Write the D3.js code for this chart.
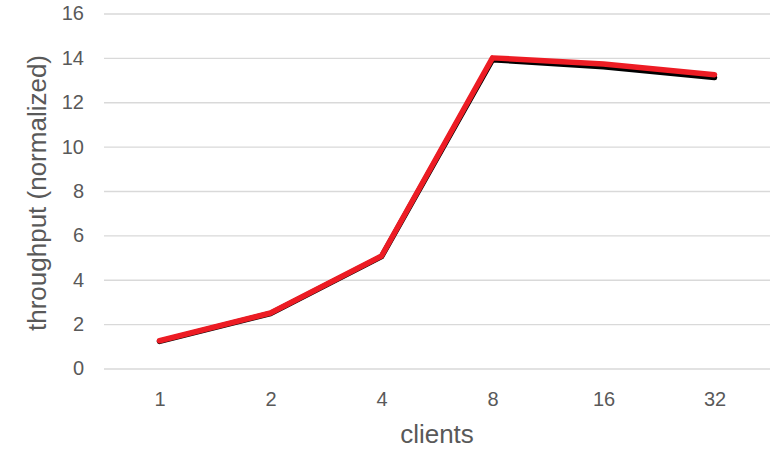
<!DOCTYPE html>
<html>
<head>
<meta charset="utf-8">
<script src="https://cdn.jsdelivr.net/npm/d3@7"></script>
<style>
  body { margin: 0; background: #fff; }
  text { font-family: "Liberation Sans", Arial, sans-serif; fill: #595959; }
</style>
</head>
<body>
<div id="chart"></div>
<script>
// categories on the x axis
const CLIENTS = ["1", "2", "4", "8", "16", "32"];
// two series, nearly identical
const SERIES_BLACK = [1.22, 2.48, 5.04, 13.92, 13.6, 13.12];
const SERIES_RED = [1.25, 2.5, 5.07, 14.0, 13.72, 13.24];
const Y_TICKS = [0, 2, 4, 6, 8, 10, 12, 14, 16];

const width = 782;
const height = 452;
const margin = { top: 13.5, left: 104, right: 12, bottom: 83.5 };

var svg = d3.select('#chart').append('svg')
  .attr('width', width)
  .attr('height', height);

var x = d3.scalePoint()
  .domain(CLIENTS)
  .range([margin.left, width - margin.right])
  .padding(0.5);

var y = d3.scaleLinear()
  .domain([0, 16])
  .range([height - margin.bottom, margin.top]);

// gridlines + y labels
var yAxis = d3.axisLeft(y)
  .tickValues(Y_TICKS)
  .tickSize(-(width - margin.left - margin.right))
  .tickPadding(20);

var gy = svg.append('g')
  .attr('transform', 'translate(' + margin.left + ',0)')
  .call(yAxis);
gy.select('.domain').remove();
gy.selectAll('.tick line').attr('stroke', '#d9d9d9').attr('stroke-width', 1.3);
gy.selectAll('.tick text').style('font-size', '20px').style('fill', '#595959');

// x labels
var xAxis = d3.axisBottom(x).tickSize(0).tickPadding(23);
var gx = svg.append('g')
  .attr('transform', 'translate(0,' + (height - margin.bottom) + ')')
  .call(xAxis);
gx.select('.domain').remove();
gx.selectAll('.tick text').style('font-size', '20px').style('fill', '#595959');

// axis titles
svg.append('text')
  .attr('x', (margin.left + width - margin.right) / 2)
  .attr('y', 443)
  .attr('text-anchor', 'middle')
  .style('font-size', '26px')
  .text('clients');

svg.append('text')
  .attr('transform', 'translate(46,' + (margin.top + (height - margin.bottom - margin.top) / 2 + 2) + ') rotate(-90)')
  .attr('text-anchor', 'middle')
  .style('font-size', '26px')
  .text('throughput (normalized)');

var line = d3.line()
  .x((d, i) => x(CLIENTS[i]))
  .y(d => y(d));

svg.append('path')
  .datum(SERIES_BLACK)
  .attr('d', line)
  .attr('fill', 'none')
  .attr('stroke', '#000')
  .attr('stroke-width', 5.5)
  .attr('stroke-linecap', 'round')
  .attr('stroke-linejoin', 'round');

svg.append('path')
  .datum(SERIES_RED)
  .attr('d', line)
  .attr('fill', 'none')
  .attr('stroke', '#ed1c24')
  .attr('stroke-width', 5.5)
  .attr('stroke-linecap', 'round')
  .attr('stroke-linejoin', 'round');
</script>
</body>
</html>
